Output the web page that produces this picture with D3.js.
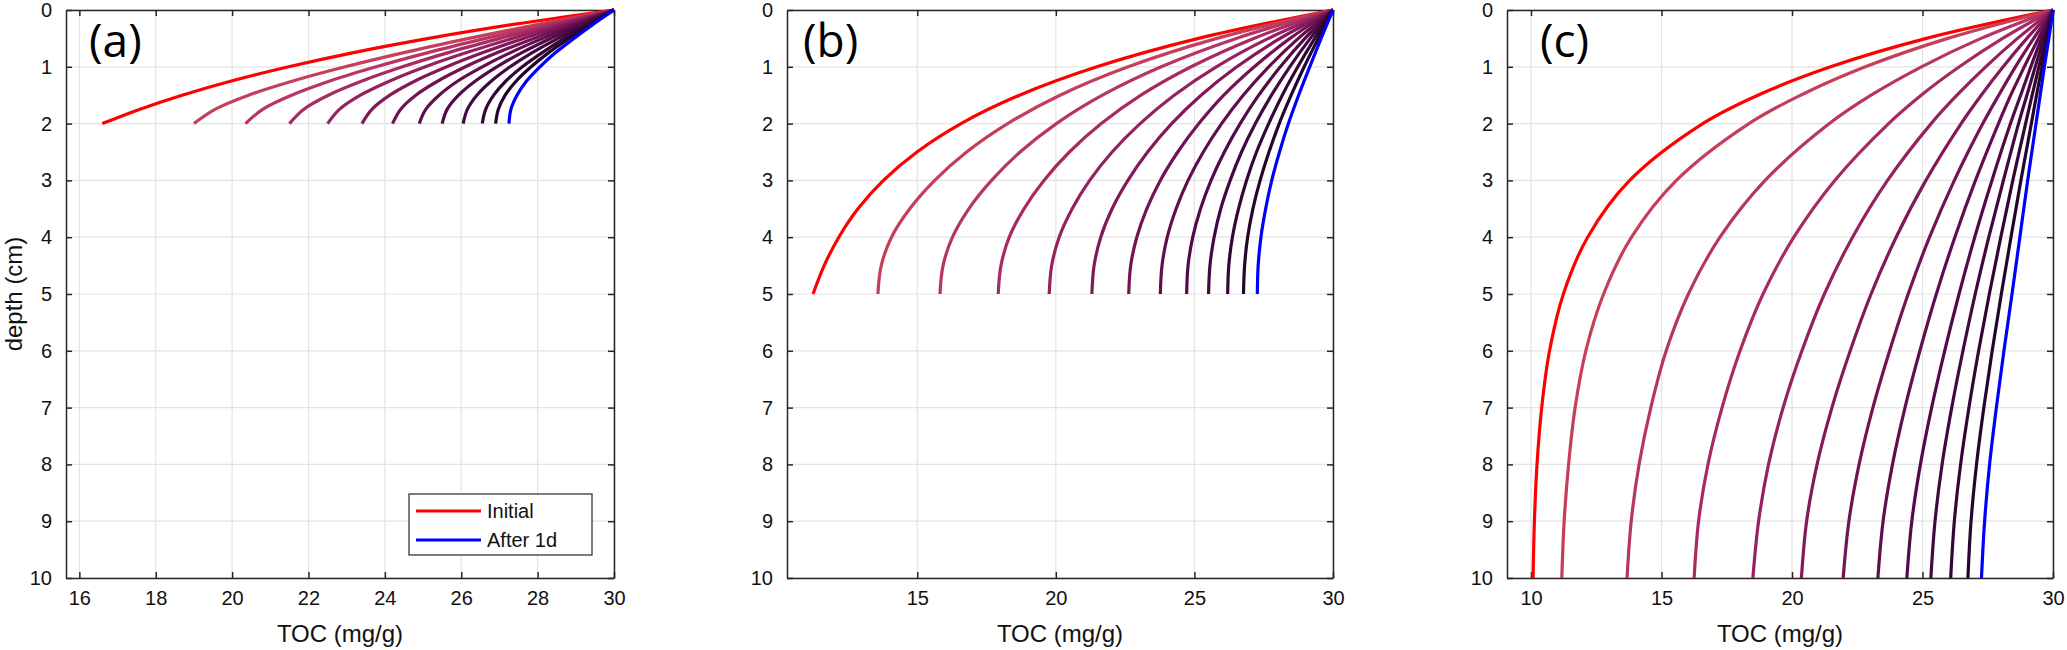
<!DOCTYPE html>
<html><head><meta charset="utf-8">
<script src="https://cdn.jsdelivr.net/npm/d3@7"></script>
<style>body{margin:0;background:#fff}svg{display:block}</style></head>
<body>
<svg id="chart" width="2067" height="650"></svg>
<script>
// ---------- data ----------
const depthTicks = [0,1,2,3,4,5,6,7,8,9,10];
const xTicksA = [16,18,20,22,24,26,28,30];
const xTicksB = [15,20,25,30];
const xTicksC = [10,15,20,25,30];
const legendLabels = ["Initial","After 1d"];
const curveColors = ["#ff0000","#c63e5a","#b73562","#a72b62","#95225e","#84195a","#731354","#620e4e","#520b48","#420840","#330636","#24052c","#0000ff"];

const depthA = [0,0.25,0.5,0.75,1,1.25,1.5,1.75,2];
const tocA = [
 [30,27.41,25.15,23.18,21.48,19.98,18.69,17.57,16.6],
 [30,28.02,26.2,24.5,22.96,21.59,20.43,19.55,19.0],
 [30,28.25,26.64,25.13,23.77,22.56,21.56,20.8,20.35],
 [30,28.44,27.01,25.66,24.46,23.4,22.52,21.87,21.5],
 [30,28.62,27.34,26.14,25.06,24.13,23.36,22.81,22.5],
 [30,28.78,27.63,26.57,25.62,24.79,24.13,23.66,23.4],
 [30,28.92,27.9,26.95,26.11,25.39,24.81,24.41,24.2],
 [30,29.04,28.13,27.29,26.55,25.91,25.42,25.07,24.9],
 [30,29.14,28.34,27.59,26.93,26.37,25.93,25.63,25.5],
 [30,29.25,28.53,27.86,27.28,26.79,26.41,26.16,26.05],
 [30,29.34,28.7,28.12,27.6,27.17,26.85,26.64,26.55],
 [30,29.4,28.82,28.29,27.83,27.44,27.15,26.97,26.9],
 [30,29.46,28.95,28.47,28.06,27.71,27.46,27.3,27.25]
];

const depthB = [0,0.5,1,1.5,2,2.5,3,3.5,4,4.5,5];
const tocB = [
 [30,25.15,21.48,18.69,16.58,14.99,13.78,12.86,12.17,11.64,11.24],
 [30,25.81,22.61,20.15,18.26,16.78,15.63,14.73,14.07,13.7,13.58],
 [30,26.51,23.8,21.68,20.02,18.71,17.68,16.86,16.27,15.93,15.82],
 [30,27.14,24.88,23.07,21.64,20.49,19.57,18.85,18.32,18.02,17.92],
 [30,27.67,25.79,24.27,23.04,22.03,21.22,20.59,20.12,19.85,19.76],
 [30,28.09,26.53,25.24,24.18,23.31,22.6,22.03,21.62,21.38,21.3],
 [30,28.45,27.16,26.06,25.16,24.4,23.77,23.28,22.92,22.7,22.63],
 [30,28.75,27.68,26.76,25.98,25.32,24.77,24.34,24.02,23.83,23.77],
 [30,28.99,28.1,27.32,26.65,26.08,25.6,25.22,24.94,24.77,24.72],
 [30,29.18,28.44,27.78,27.2,26.7,26.29,25.95,25.71,25.56,25.51],
 [30,29.34,28.73,28.17,27.68,27.24,26.88,26.59,26.37,26.24,26.2],
 [30,29.47,28.96,28.49,28.06,27.69,27.37,27.11,26.92,26.81,26.77],
 [30,29.57,29.16,28.76,28.39,28.07,27.79,27.57,27.4,27.3,27.27]
];

const depthC = [0,0.5,1,1.5,2,3,4,5,6,7,8,9,10];
const tocC = [
 [30,25.15,21.48,18.69,16.58,13.78,12.17,11.24,10.71,10.41,10.23,10.13,10.08],
 [30,25.97,22.81,20.33,18.35,15.57,13.85,12.78,12.1,11.69,11.44,11.27,11.18],
 [30,27.24,24.96,23.03,21.43,18.97,17.24,16.03,15.18,14.59,14.14,13.84,13.68],
 [30,28.07,26.41,24.95,23.7,21.64,20.07,18.89,18.01,17.32,16.78,16.42,16.25],
 [30,28.64,27.42,26.32,25.33,23.66,22.32,21.24,20.38,19.66,19.1,18.72,18.5],
 [30,29.0,28.09,27.25,26.48,25.13,23.99,23.03,22.23,21.53,20.96,20.56,20.36],
 [30,29.26,28.56,27.92,27.31,26.22,25.27,24.45,23.74,23.1,22.57,22.18,21.96],
 [30,29.44,28.9,28.38,27.91,27.03,26.24,25.53,24.9,24.33,23.85,23.49,23.29],
 [30,29.56,29.15,28.76,28.37,27.66,27.0,26.4,25.85,25.35,24.92,24.59,24.4],
 [30,29.65,29.32,29.0,28.68,28.1,27.54,27.02,26.55,26.12,25.75,25.48,25.32],
 [30,29.73,29.46,29.2,28.95,28.46,28.0,27.56,27.15,26.78,26.46,26.22,26.08],
 [30,29.78,29.58,29.37,29.17,28.77,28.39,28.02,27.67,27.35,27.07,26.86,26.74],
 [30,29.84,29.67,29.51,29.35,29.03,28.73,28.43,28.12,27.83,27.57,27.38,27.26]
];

// ---------- layout ----------
const TOP = 10, BOTTOM = 578;
const panels = [
  {depth:depthA, toc:tocA, xDomain:[15.65,30], xTicks:xTicksA, left:66,  right:614,  tag:"(a)", tagX:89,   legend:true, ylabel:true},
  {depth:depthB, toc:tocB, xDomain:[10.3,30],  xTicks:xTicksB, left:787, right:1333, tag:"(b)", tagX:803,  legend:false, ylabel:false},
  {depth:depthC, toc:tocC, xDomain:[9.08,30],  xTicks:xTicksC, left:1507,right:2053, tag:"(c)", tagX:1540, legend:false, ylabel:false}
];

const svg = d3.select("#chart");
svg.append("rect").attr("width",2067).attr("height",650).attr("fill","#fff");
const FONT = "'Liberation Sans', Arial, Helvetica, sans-serif";
const AX = "#262626";
const TICK = 6;

panels.forEach(p => {
  const x = d3.scaleLinear().domain(p.xDomain).range([p.left, p.right]);
  const y = d3.scaleLinear().domain([0,10]).range([TOP, BOTTOM]);
  const g = svg.append("g");

  // grid
  g.selectAll(".gx").data(p.xTicks).join("line")
    .attr("x1", d=>x(d)).attr("x2", d=>x(d)).attr("y1", TOP).attr("y2", BOTTOM)
    .attr("stroke", "#e3e3e3").attr("stroke-width", 1.2);
  g.selectAll(".gy").data(depthTicks).join("line")
    .attr("x1", p.left).attr("x2", p.right).attr("y1", d=>y(d)).attr("y2", d=>y(d))
    .attr("stroke", "#e3e3e3").attr("stroke-width", 1.2);

  // axes via d3 axis (inner ticks)
  const xb = d3.axisBottom(x).tickValues(p.xTicks).tickSizeInner(-TICK).tickSizeOuter(0).tickPadding(13);
  const xt = d3.axisTop(x).tickValues(p.xTicks).tickSizeInner(-TICK).tickSizeOuter(0).tickFormat("");
  const yl = d3.axisLeft(y).tickValues(depthTicks).tickSizeInner(-TICK).tickSizeOuter(0).tickPadding(14);
  const yr = d3.axisRight(y).tickValues(depthTicks).tickSizeInner(-TICK).tickSizeOuter(0).tickFormat("");

  const axB = g.append("g").attr("transform",`translate(0,${BOTTOM})`).call(xb);
  const axT = g.append("g").attr("transform",`translate(0,${TOP})`).call(xt);
  const axL = g.append("g").attr("transform",`translate(${p.left},0)`).call(yl);
  const axR = g.append("g").attr("transform",`translate(${p.right},0)`).call(yr);
  [axB,axT,axL,axR].forEach(a=>{
    a.select(".domain").attr("stroke",AX).attr("stroke-width",1.5);
    a.selectAll(".tick line").attr("stroke",AX).attr("stroke-width",1.5);
    a.selectAll(".tick text").attr("fill","#111").attr("font-family",FONT).attr("font-size",20);
  });

  // curves
  const line = d3.line().x(d=>x(d[0])).y(d=>y(d[1])).curve(d3.curveCatmullRom.alpha(0.5));
  p.toc.forEach((row,i) => {
    const pts = row.map((v,k)=>[v, p.depth[k]]);
    g.append("path").attr("d", line(pts)).attr("fill","none")
      .attr("stroke", curveColors[i]).attr("stroke-width", 3.2)
      .attr("stroke-linecap","butt").attr("stroke-linejoin","round");
  });

  // panel tag
  g.append("text").attr("x", p.tagX).attr("y", 57).text(p.tag)
    .attr("font-family","'Open Sans', 'Noto Sans', sans-serif").attr("font-size",46).attr("fill","#000");

  // x label
  g.append("text").attr("x",(p.left+p.right)/2).attr("y",642).attr("text-anchor","middle")
    .attr("font-family",FONT).attr("font-size",24).attr("fill","#111").text("TOC (mg/g)");

  if (p.ylabel) {
    g.append("text").attr("transform",`translate(22,${(TOP+BOTTOM)/2}) rotate(-90)`)
      .attr("text-anchor","middle").attr("font-family",FONT).attr("font-size",24).attr("fill","#111")
      .text("depth (cm)");
  }

  if (p.legend) {
    const lg = g.append("g");
    lg.append("rect").attr("x",409).attr("y",494).attr("width",183).attr("height",61)
      .attr("fill","#fff").attr("stroke",AX).attr("stroke-width",1.2);
    const legendColors = [curveColors[0], curveColors[curveColors.length-1]];
    legendLabels.forEach((lab,i)=>{
      const yy = 511 + i*29;
      lg.append("line").attr("x1",416).attr("x2",481).attr("y1",yy).attr("y2",yy)
        .attr("stroke",legendColors[i]).attr("stroke-width",3.2);
      lg.append("text").attr("x",487).attr("y",yy+7).attr("font-family",FONT).attr("font-size",20)
        .attr("fill","#111").text(lab);
    });
  }
});
</script>
</body></html>
